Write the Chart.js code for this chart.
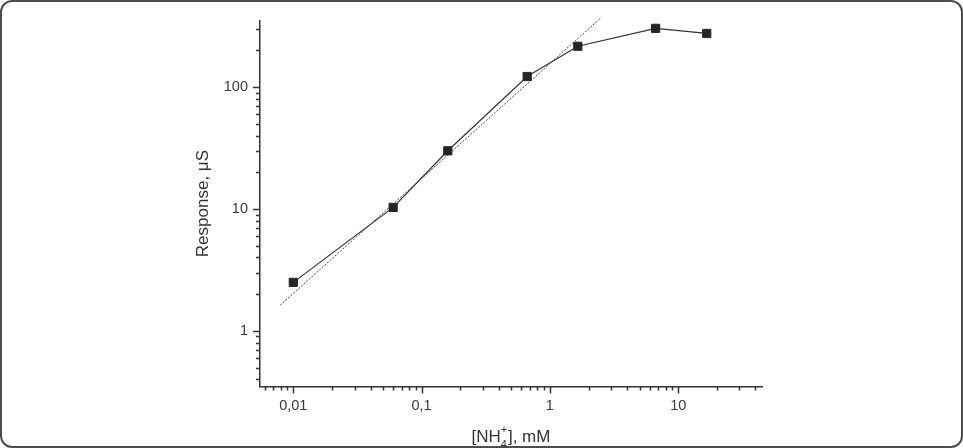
<!DOCTYPE html>
<html>
<head>
<meta charset="utf-8">
<script src="https://cdn.jsdelivr.net/npm/chart.js@4.4.1/dist/chart.umd.min.js"></script>
<style>
  html, body { margin: 0; padding: 0; background: #fff; }
  #wrap { position: relative; width: 963px; height: 448px; }
  #frame {
    position: absolute; left: 0; top: 0; width: 963px; height: 448px;
    box-sizing: border-box; border: 2px solid #4d4d4d; border-radius: 12px;
    pointer-events: none;
  }
</style>
</head>
<body>
<div id="wrap">
  <canvas id="grafico" width="963" height="448"></canvas>
  <div id="frame"></div>
</div>
<script>
// measured points: concentration (mM) and response (uS)
var concentracion = [0.01, 0.06, 0.16, 0.665, 1.65, 6.67, 16.7];
var respuesta = [2.5, 10.3, 30, 122, 216, 303, 275];
// dotted linear fit, two ends
var ajusteX = [0.0079, 2.51];
var ajusteY = [1.625, 371];
// axis ranges
var rangoX = [0.0055, 45];
var rangoY = [0.35, 350];

var fuente = '"Liberation Sans", Arial, sans-serif';

function puntos(xs, ys) {
  var out = [];
  for (var i = 0; i < xs.length; i++) out.push({ x: xs[i], y: ys[i] });
  return out;
}

function etiqueta(value) {
  var l = Math.log10(value);
  if (Math.abs(l - Math.round(l)) > 1e-6) return '';
  return String(Math.pow(10, Math.round(l))).replace('.', ',');
}

// log ticks, long on decades, short on the rest
const marcas = {
  id: 'marcas',
  afterDraw(chart) {
    const ctx = chart.ctx;
    ctx.save();
    ctx.strokeStyle = '#333';
    ctx.lineWidth = 1.5;
    ['x', 'y'].forEach(function (id) {
      const s = chart.scales[id];
      const e0 = Math.floor(Math.log10(s.min));
      const e1 = Math.ceil(Math.log10(s.max));
      for (let e = e0; e <= e1; e++) {
        for (let m = 1; m <= 9; m++) {
          const v = m * Math.pow(10, e);
          if (v < s.min * 0.999 || v > s.max * 1.001) continue;
          const len = m === 1 ? 7 : 4;
          const p = Math.round(s.getPixelForValue(v)) + 0.5;
          ctx.beginPath();
          if (id === 'x') {
            ctx.moveTo(p, s.top);
            ctx.lineTo(p, s.top + len);
          } else {
            ctx.moveTo(s.right, p);
            ctx.lineTo(s.right - len, p);
          }
          ctx.stroke();
        }
      }
    });
    // x title with stacked super/subscript
    const sx = chart.scales.x;
    const cx = (chart.chartArea.left + chart.chartArea.right) / 2;
    const cy = sx.bottom - 11;
    ctx.fillStyle = '#333';
    ctx.textBaseline = 'middle';
    ctx.textAlign = 'left';
    ctx.font = '17px ' + fuente;
    const w1 = ctx.measureText('[NH').width;
    const w2 = ctx.measureText('], mM').width;
    ctx.font = '11px ' + fuente;
    const ws = ctx.measureText('4').width;
    const x0 = cx - (w1 + ws + 1 + w2) / 2;
    ctx.font = '17px ' + fuente;
    ctx.fillText('[NH', x0, cy);
    ctx.fillText('], mM', x0 + w1 + ws + 1, cy);
    ctx.font = '11px ' + fuente;
    ctx.fillText('+', x0 + w1, cy - 7);
    ctx.fillText('4', x0 + w1, cy + 8);
    ctx.restore();
  }
};

const config = {
  type: 'line',
  data: {
    datasets: [
      {
        label: 'ajuste',
        data: puntos(ajusteX, ajusteY),
        borderColor: '#444',
        borderWidth: 1,
        borderDash: [2, 1.5],
        pointRadius: 0,
        clip: false,
        order: 2
      },
      {
        label: 'Response',
        data: puntos(concentracion, respuesta),
        borderColor: '#333',
        borderWidth: 1.2,
        pointStyle: 'rect',
        pointRadius: 5.8,
        pointBackgroundColor: '#262626',
        pointBorderColor: '#262626',
        pointBorderWidth: 1,
        order: 1
      }
    ]
  },
  options: {
    responsive: false,
    animation: false,
    layout: { padding: { left: 193, right: 201, top: 16, bottom: 0 } },
    plugins: { legend: { display: false }, tooltip: { enabled: false } },
    scales: {
      x: {
        type: 'logarithmic',
        position: 'bottom',
        min: rangoX[0],
        max: rangoX[1],
        grid: { display: true, drawOnChartArea: false, drawTicks: false },
        border: { display: true, color: '#333', width: 1.5 },
        ticks: {
          autoSkip: false,
          maxRotation: 0,
          padding: 11,
          color: '#3a3a3a',
          font: { family: fuente, size: 14.5 },
          callback: etiqueta
        },
        afterFit: function (s) { s.height = 61.5; }
      },
      y: {
        type: 'logarithmic',
        position: 'left',
        min: rangoY[0],
        max: rangoY[1],
        grid: { display: true, drawOnChartArea: false, drawTicks: false },
        border: { display: true, color: '#333', width: 1.5 },
        ticks: {
          autoSkip: false,
          padding: 12,
          color: '#3a3a3a',
          font: { family: fuente, size: 14.5 },
          callback: etiqueta
        },
        title: {
          display: true,
          text: 'Response, μS',
          color: '#333',
          padding: { top: 0, bottom: 0 },
          font: { family: fuente, size: 17 }
        },
        afterFit: function (s) { s.width = 67; }
      }
    }
  },
  plugins: [marcas]
};

const myChart = new Chart(document.getElementById('grafico'), config);
</script>
</body>
</html>
